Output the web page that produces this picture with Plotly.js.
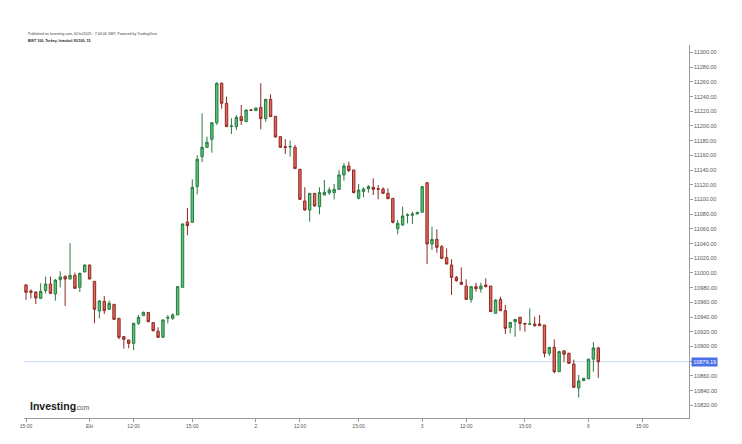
<!DOCTYPE html>
<html>
<head>
<meta charset="utf-8">
<script src="https://cdn.plot.ly/plotly-3.0.1.min.js"></script>
<style>
  html, body { margin: 0; padding: 0; background: #ffffff; }
  #chart { width: 742px; height: 444px; }
</style>
</head>
<body>
<div id="chart"></div>
<script>
// BIST 100, 15-minute bars, 30 Sep 15:00 -> 6 Oct 10:15
const openVals = [
  10983.7, 10975.5, 10974.1, 10965.5, 10976.0, 10985.0, 10971.4, 10990.9, 10995.5, 10991.8,
  10996.8, 10980.5, 11001.4, 11010.9, 10988.7, 10948.3, 10961.4, 10950.6, 10957.4, 10938.3,
  10913.4, 10908.9, 10904.3, 10931.5, 10942.0, 10946.3, 10932.5, 10920.7, 10912.5, 10938.5,
  10938.3, 10942.9, 10980.5, 11069.4, 11068.9, 11117.5, 11158.3, 11171.0, 11181.9, 11204.5,
  11258.1, 11230.9, 11199.5, 11199.1, 11212.7, 11205.9, 11222.0, 11220.9, 11225.4, 11210.0,
  11236.3, 11213.2, 11185.5, 11171.9, 11171.5, 11171.0, 11141.1, 11098.0, 11085.7, 11108.4,
  11090.3, 11106.1, 11109.3, 11109.3, 11113.8, 11133.4, 11145.6, 11140.2, 11101.6, 11110.8,
  11114.7, 11116.6, 11114.7, 11114.2, 11108.4, 11101.6, 11060.3, 11065.3, 11078.5, 11078.5,
  11080.3, 11082.6, 11122.9, 11039.4, 11045.8, 11035.8, 11020.8, 11010.9, 10994.1, 10987.3,
  10982.3, 10964.1, 10981.4, 10978.3, 10983.7, 10982.3, 10945.1, 10964.1, 10948.7, 10926.0,
  10933.8, 10939.7, 10931.5, 10930.1, 10930.6, 10930.6, 10929.2, 10890.7, 10898.8, 10865.7,
  10894.0, 10890.7, 10876.2, 10843.5, 10853.5, 10856.0, 10882.8, 10898.0
];
const highVals = [
  10985.0, 10977.8, 10975.0, 10985.9, 10995.0, 10995.0, 10991.4, 11002.3, 10996.4, 11040.4,
  11000.5, 11000.5, 11011.3, 11011.3, 10988.7, 10963.3, 10968.7, 10962.4, 10957.8, 10938.3,
  10914.3, 10908.9, 10932.4, 10942.9, 10947.4, 10947.0, 10932.5, 10926.1, 10936.5, 10942.9,
  10945.2, 10982.3, 11067.6, 11088.4, 11127.4, 11160.1, 11217.2, 11185.5, 11204.5, 11259.4,
  11259.4, 11239.9, 11210.4, 11215.0, 11228.6, 11222.7, 11222.3, 11224.9, 11258.1, 11236.3,
  11243.1, 11213.6, 11186.0, 11181.9, 11180.1, 11174.2, 11141.5, 11116.6, 11108.4, 11108.4,
  11116.6, 11126.5, 11116.6, 11121.1, 11140.2, 11149.2, 11151.5, 11140.2, 11121.1, 11116.6,
  11119.7, 11128.8, 11119.7, 11116.6, 11115.2, 11101.6, 11072.0, 11090.3, 11081.2, 11083.5,
  11082.6, 11117.5, 11122.9, 11063.0, 11059.4, 11038.1, 11033.5, 11018.6, 10995.9, 11007.7,
  10991.4, 10981.4, 10986.8, 10986.8, 10992.7, 10982.3, 10964.1, 10967.8, 10956.4, 10932.8,
  10936.9, 10940.6, 10931.5, 10951.9, 10940.6, 10942.8, 10929.2, 10898.8, 10909.7, 10894.3,
  10895.2, 10891.6, 10882.0, 10861.2, 10857.0, 10883.0, 10906.0, 10899.7
];
const lowVals = [
  10963.3, 10965.5, 10957.8, 10964.6, 10972.3, 10971.4, 10962.4, 10980.5, 10955.1, 10991.4,
  10978.7, 10974.1, 11001.4, 10991.4, 10931.5, 10938.3, 10944.2, 10949.7, 10936.1, 10909.8,
  10897.1, 10897.5, 10895.2, 10929.3, 10942.0, 10933.0, 10920.2, 10911.6, 10911.6, 10931.5,
  10936.1, 10942.9, 10980.5, 11051.3, 11068.9, 11107.0, 11151.0, 11171.0, 11163.7, 11201.4,
  11223.6, 11199.1, 11189.1, 11194.6, 11201.4, 11205.9, 11221.0, 11220.5, 11195.5, 11205.9,
  11212.7, 11184.6, 11170.0, 11161.9, 11158.3, 11142.0, 11100.0, 11085.0, 11069.9, 11090.3,
  11079.8, 11105.8, 11106.1, 11100.2, 11112.9, 11125.6, 11137.4, 11108.4, 11100.2, 11102.9,
  11109.3, 11106.1, 11100.2, 11108.0, 11101.0, 11067.6, 11052.6, 11064.4, 11067.6, 11066.7,
  11080.0, 11082.6, 11012.0, 11031.3, 11027.6, 11019.9, 11012.0, 10970.0, 10988.2, 10983.7,
  10964.0, 10959.6, 10974.6, 10973.2, 10980.5, 10947.0, 10945.1, 10948.7, 10917.0, 10917.9,
  10913.3, 10921.5, 10920.2, 10930.0, 10926.9, 10928.0, 10885.2, 10887.1, 10863.5, 10865.7,
  10879.3, 10876.2, 10844.4, 10830.5, 10853.0, 10856.0, 10865.7, 10857.2
];
const closeVals = [
  10973.7, 10973.7, 10966.0, 10975.0, 10985.0, 10972.3, 10990.5, 10994.6, 10991.8, 10996.8,
  10979.1, 10999.5, 11010.9, 10991.8, 10950.6, 10961.9, 10948.8, 10958.7, 10937.0, 10912.5,
  10909.8, 10904.3, 10931.5, 10939.7, 10946.5, 10933.8, 10921.6, 10912.5, 10936.1, 10939.5,
  10942.9, 10981.4, 11066.7, 11064.4, 11116.6, 11154.7, 11171.0, 11177.8, 11204.5, 11258.1,
  11230.9, 11199.1, 11200.0, 11211.8, 11207.3, 11221.8, 11221.4, 11224.5, 11210.0, 11236.3,
  11212.7, 11185.0, 11171.0, 11170.6, 11172.0, 11142.0, 11100.2, 11085.7, 11108.4, 11091.2,
  11109.3, 11109.8, 11112.9, 11113.8, 11133.4, 11145.6, 11139.3, 11109.3, 11112.9, 11114.2,
  11117.5, 11113.8, 11114.0, 11108.4, 11101.1, 11068.9, 11067.6, 11077.6, 11079.0, 11080.3,
  11082.6, 11117.5, 11039.5, 11045.8, 11034.9, 11019.9, 11012.2, 10994.1, 10989.5, 10984.6,
  10964.1, 10981.4, 10978.7, 10982.3, 10981.4, 10947.4, 10963.2, 10948.7, 10924.7, 10932.8,
  10936.9, 10931.5, 10930.6, 10930.6, 10928.3, 10928.3, 10890.7, 10898.8, 10865.7, 10893.0,
  10889.5, 10877.1, 10844.4, 10853.2, 10856.7, 10882.8, 10898.0, 10879.19
];
const lastPrice = 10879.19;

// x tick positions (bar index) and labels
const tickIdx    = [0, 13, 22, 34, 47, 56, 68, 81, 90, 102, 115, 126];
const tickLabels = ["15:00", "Eki", "12:00", "15:00", "2", "12:00", "15:00", "3", "12:00", "15:00", "6", "15:00"];

const headerLine1 = "Published on Investing.com, 6/Oct/2025 - 7:44:06 GMT, Powered by TradingView";
const headerLine2 = "BIST 100, Turkey, Istanbul:XU100, 15";

const barIdx = closeVals.map((_, i) => i);
const FONT = "Liberation Sans, Arial, sans-serif";

const trace = {
  type: "candlestick",
  x: barIdx,
  open: openVals, high: highVals, low: lowVals, close: closeVals,
  increasing: { line: { color: "#2a7a3e", width: 1 }, fillcolor: "#55c57a" },
  decreasing: { line: { color: "#8e2a24", width: 1 }, fillcolor: "#e5675c" },
  whiskerwidth: 0,
  hoverinfo: "none",
  showlegend: false
};

const layout = {
  width: 742, height: 444,
  margin: { l: 24, r: 53, t: 45, b: 26, pad: 0 },
  paper_bgcolor: "#ffffff", plot_bgcolor: "#ffffff",
  showlegend: false,
  font: { family: FONT, color: "#555555" },
  xaxis: {
    type: "linear",
    range: [-0.41, 135.55],
    rangeslider: { visible: false },
    showgrid: false, zeroline: false,
    showline: true, linecolor: "#9a9a9a", linewidth: 1,
    ticks: "outside", ticklen: 3, tickcolor: "#9a9a9a", tickwidth: 1,
    tickmode: "array", tickvals: tickIdx, ticktext: tickLabels,
    tickfont: { family: FONT, size: 5, color: "#555555" }
  },
  yaxis: {
    side: "right",
    range: [10802.7, 11310.2],
    showgrid: false, zeroline: false,
    showline: true, linecolor: "#9a9a9a", linewidth: 1,
    ticks: "outside", ticklen: 3, tickcolor: "#9a9a9a", tickwidth: 1,
    tick0: 10820, dtick: 20, tickformat: ".2f",
    tickfont: { family: FONT, size: 5.5, color: "#555555" }
  },
  shapes: [
    { type: "line", xref: "paper", yref: "y", x0: 0, x1: 1, y0: lastPrice, y1: lastPrice,
      line: { color: "#ccd5f7", width: 1 }, layer: "below" }
  ],
  annotations: [
    { xref: "paper", yref: "y", x: 1.003, y: lastPrice, xanchor: "left", yanchor: "middle",
      text: lastPrice.toFixed(2), showarrow: false, bgcolor: "#4b6fe9", borderpad: 1.2,
      font: { family: FONT, size: 5.5, color: "#ffffff" } },
    { xref: "paper", yref: "paper", x: 0.003, y: 1.0295, xanchor: "left", yanchor: "middle",
      text: headerLine1, showarrow: false,
      font: { family: FONT, size: 3.6, color: "#444444" } },
    { xref: "paper", yref: "paper", x: 0.003, y: 1.012, xanchor: "left", yanchor: "middle",
      text: "<b>" + headerLine2 + "</b>", showarrow: false,
      font: { family: FONT, size: 3.6, color: "#222222" } },
    { xref: "paper", yref: "paper", x: 0.006, y: 0.033, xanchor: "left", yanchor: "middle",
      text: "<b>Investing</b>", showarrow: false,
      font: { family: FONT, size: 10.5, color: "#1a1a1a" } },
    { xref: "paper", yref: "paper", x: 0.073, y: 0.027, xanchor: "left", yanchor: "middle",
      text: ".com", showarrow: false,
      font: { family: FONT, size: 6.5, color: "#555555" } }
  ]
};

Plotly.newPlot("chart", [trace], layout, { displayModeBar: false, staticPlot: true });
</script>
</body>
</html>
